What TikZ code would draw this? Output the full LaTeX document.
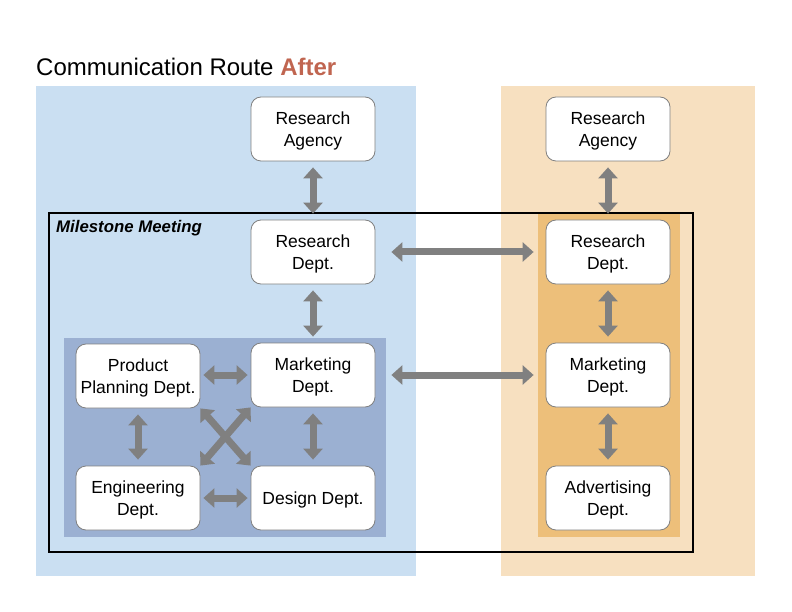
\documentclass[tikz,border=0pt]{standalone}
\usepackage{fontspec}
\setmainfont{Liberation Sans}
\usetikzlibrary{arrows.meta}
\definecolor{lightblue}{RGB}{202,223,242}
\definecolor{darkblue}{RGB}{155,176,210}
\definecolor{lightorange}{RGB}{247,224,192}
\definecolor{darkorange}{RGB}{237,191,122}
\definecolor{arrowgray}{RGB}{128,128,128}
\definecolor{aftercol}{RGB}{192,101,80}
\begin{document}
\begin{tikzpicture}[x=1pt,y=-1pt,
  dept/.style={draw=arrowgray, line width=0.8pt, fill=white, rounded corners=10pt,
    minimum width=124pt, minimum height=64pt, inner sep=0pt, align=center,
    text depth=0pt,
    font=\fontsize{17.5}{22}\selectfont},
  bigarrow/.style={draw=arrowgray, line width=7pt,
    {Triangle[width=19pt,length=11pt]}-{Triangle[width=19pt,length=11pt]},
    shorten <=6pt, shorten >=6pt}
]
\useasboundingbox (0,0) rectangle (792,612);
% panels
\fill[lightblue] (36,86) rectangle (416,576);
\fill[lightorange] (501,86) rectangle (755,576);
\fill[darkblue] (64,338) rectangle (386,537);
\fill[darkorange] (538,214) rectangle (680,537);
\draw[line width=1.8pt] (49,213) rectangle (693,552);
% title
\node[anchor=base west, inner sep=0pt, font=\fontsize{24}{28}\selectfont] (title) at (36,76)
  {Communication Route \textbf{\textcolor{aftercol}{After}}};
\node[anchor=base west, inner sep=0pt, font=\fontsize{16.8}{20}\selectfont\bfseries\itshape] (ms) at (56,233) {Milestone Meeting};
% left nodes
\node[dept] (ra) at (313,129) {Research\\Agency};
\node[dept] (rd) at (313,252) {Research\\Dept.};
\node[dept] (mk) at (313,375) {Marketing\\Dept.};
\node[dept] (pp) at (138,376) {Product\\Planning Dept.};
\node[dept] (en) at (138,498) {Engineering\\Dept.};
\node[dept] (de) at (313,498) {Design Dept.};
% right nodes
\node[dept] (ra2) at (608,129) {Research\\Agency};
\node[dept] (rd2) at (608,252) {Research\\Dept.};
\node[dept] (mk2) at (608,375) {Marketing\\Dept.};
\node[dept] (ad) at (608,498) {Advertising\\Dept.};
% arrows
\draw[bigarrow] (ra) -- (rd);
\draw[bigarrow] (rd) -- (mk);
\draw[bigarrow] (mk) -- (de);
\draw[bigarrow] (pp) -- (en);
\draw[bigarrow, shorten <=3pt, shorten >=3pt] (pp.east |- mk) -- (mk);
\draw[bigarrow, shorten <=3pt, shorten >=3pt] (en) -- (de);
\draw[bigarrow, shorten <=0pt, shorten >=0pt] (pp.south east) -- (de.north west);
\draw[bigarrow, shorten <=0pt, shorten >=0pt] (mk.south west) -- (en.north east);
\draw[bigarrow, shorten <=16pt, shorten >=12pt] (rd) -- (rd2);
\draw[bigarrow, shorten <=16pt, shorten >=12pt] (mk) -- (mk2);
\draw[bigarrow] (ra2) -- (rd2);
\draw[bigarrow] (rd2) -- (mk2);
\draw[bigarrow] (mk2) -- (ad);
\end{tikzpicture}
\end{document}
